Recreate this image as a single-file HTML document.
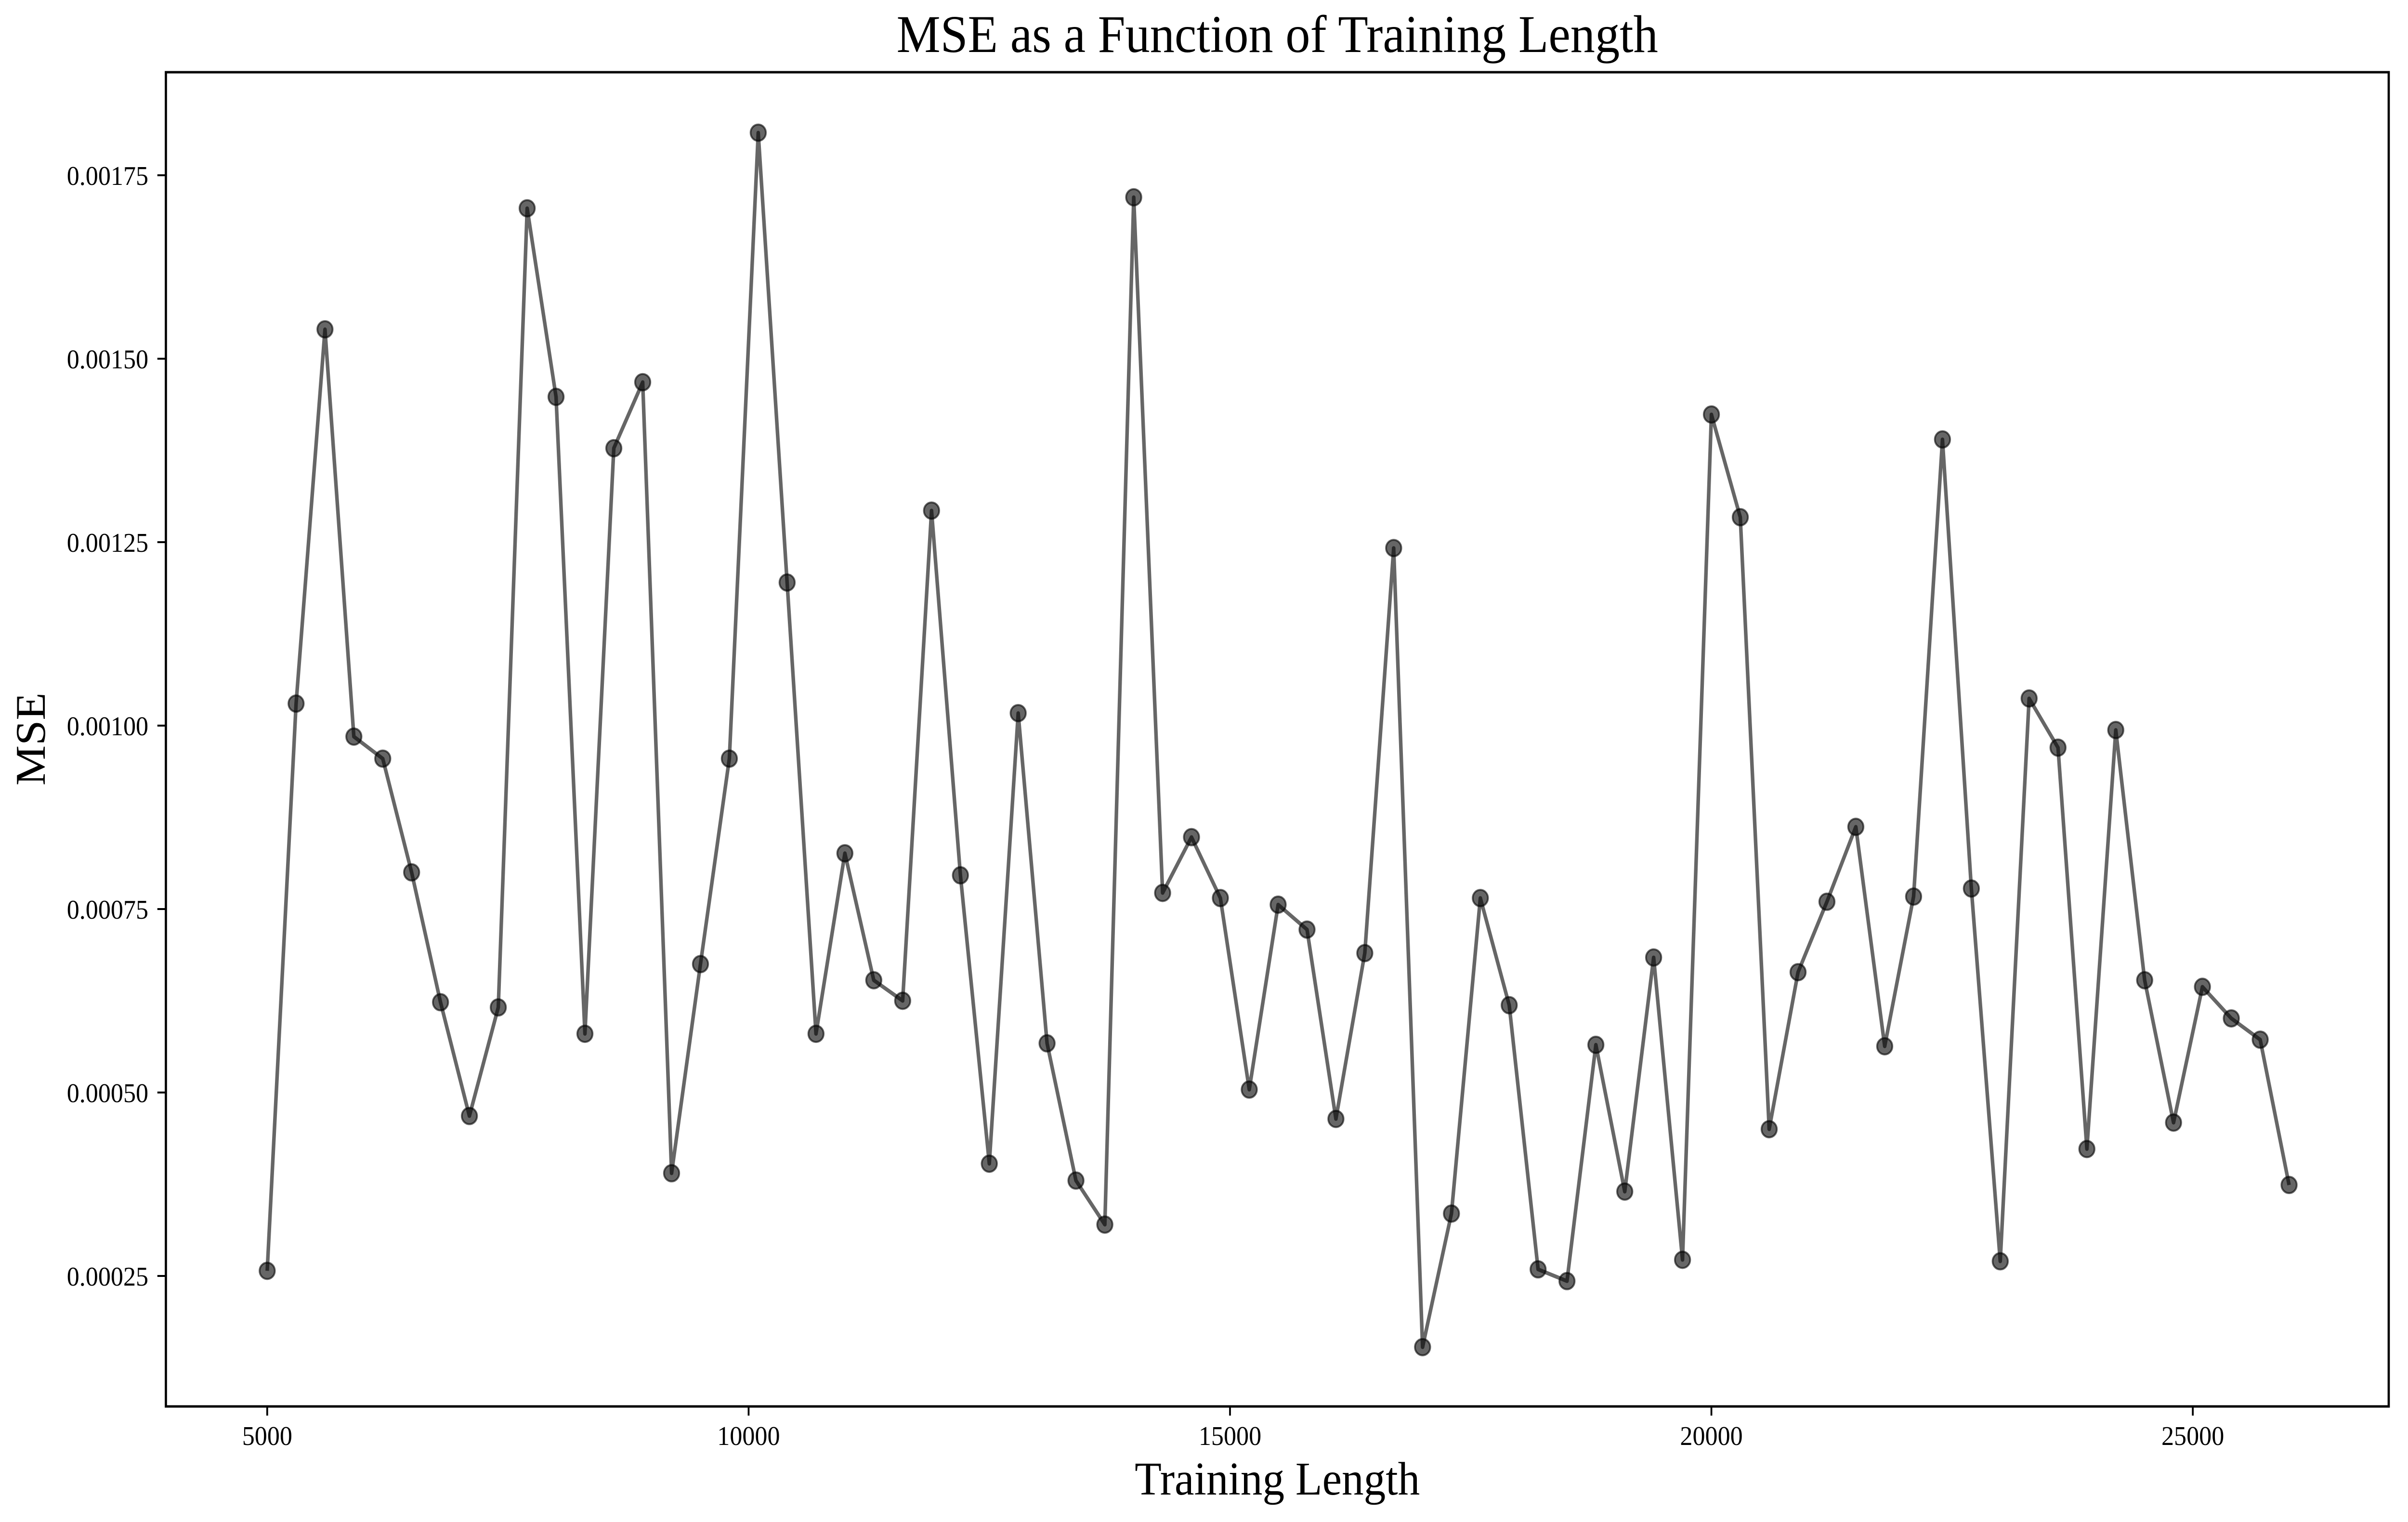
<!DOCTYPE html>
<html><head><meta charset="utf-8"><style>
html,body{margin:0;padding:0;background:#fff;overflow:hidden;width:100%;height:100%}
svg{display:block;width:100vw;height:100vh}
text{font-family:"Liberation Serif",serif;fill:#000}
</style></head><body>
<svg id="chart" viewBox="0 0 5371 3161" preserveAspectRatio="none" xmlns="http://www.w3.org/2000/svg">
<text x="2849" y="108" font-size="110" text-anchor="middle">MSE as a Function of Training Length</text>
<text x="2849" y="3104" font-size="98" text-anchor="middle">Training Length</text>
<text x="0" y="0" font-size="94" text-anchor="middle" transform="translate(100,1535) rotate(-90)">MSE</text>
<g id="ticks"></g>
<g id="series"></g>
<rect x="370" y="150" width="4958" height="2771" fill="none" stroke="#000" stroke-width="5"/>
</svg>
<script>
const trainingLengths = [5000,5300,5600,5900,6200,6500,6800,7100,7400,7700,8000,8300,8600,8900,9200,9500,9800,10100,10400,10700,11000,11300,11600,11900,12200,12500,12800,13100,13400,13700,14000,14300,14600,14900,15200,15500,15800,16100,16400,16700,17000,17300,17600,17900,18200,18500,18800,19100,19400,19700,20000,20300,20600,20900,21200,21500,21800,22100,22400,22700,23000,23300,23600,23900,24200,24500,24800,25100,25400,25700,26000];
const mseValues = [0.000257,0.00103,0.00154,0.000985,0.000955,0.0008,0.000623,0.000468,0.000616,0.001705,0.001448,0.00058,0.001378,0.001468,0.00039,0.000675,0.000955,0.001808,0.001195,0.00058,0.000826,0.000653,0.000625,0.001293,0.000796,0.000403,0.001017,0.000567,0.00038,0.00032,0.00172,0.000772,0.000848,0.000765,0.000504,0.000756,0.000722,0.000464,0.00069,0.001242,0.000153,0.000335,0.000765,0.000619,0.000259,0.000243,0.000565,0.000365,0.000684,0.000272,0.001424,0.001284,0.00045,0.000664,0.00076,0.000862,0.000563,0.000767,0.00139,0.000778,0.00027,0.001037,0.00097,0.000423,0.000994,0.000653,0.000459,0.000644,0.000601,0.000572,0.000374];
const xTicks = [5000,10000,15000,20000,25000];
const yTicks = [0.00025,0.0005,0.00075,0.001,0.00125,0.0015,0.00175];
const yTickLabels = ["0.00025","0.00050","0.00075","0.00100","0.00125","0.00150","0.00175"];

const NS = "http://www.w3.org/2000/svg";
function xs(v){ return 596 + (v - 5000) * (4891 - 596) / 20000; }
function ys(v){ return 364 + (0.00175 - v) * 381 / 0.00025; }
const tg = document.getElementById('ticks');
const sg = document.getElementById('series');
function mk(tag, attrs){ const e = document.createElementNS(NS, tag); for (const k in attrs) e.setAttribute(k, attrs[k]); return e; }

xTicks.forEach(t => {
  const l = mk('line', {x1: xs(t), x2: xs(t), y1: 2921, y2: 2940, stroke: '#000', 'stroke-width': 4});
  
  
  tg.appendChild(l);
  const tx = mk('text', {x: xs(t), y: 3001, 'font-size': 56, 'text-anchor': 'middle'});
  tx.textContent = String(t);
  
  
  tg.appendChild(tx);
});
yTicks.forEach((t, i) => {
  const l = mk('line', {x1: 351, x2: 370, y1: ys(t), y2: ys(t), stroke: '#000', 'stroke-width': 4});
  
  
  tg.appendChild(l);
  const tx = mk('text', {x: 331, y: ys(t) + 20, 'font-size': 56, 'text-anchor': 'end'});
  tx.textContent = yTickLabels[i];
  
  
  tg.appendChild(tx);
});

const pts = trainingLengths.map((x, i) => xs(x) + ',' + ys(mseValues[i])).join(' ');
const line = mk('polyline', {points: pts, fill: 'none', stroke: '#000', 'stroke-opacity': 0.6, 'stroke-width': 8, 'stroke-linejoin': 'round'});


sg.appendChild(line);
trainingLengths.forEach((x, i) => {
  const c = mk('circle', {cx: xs(x), cy: ys(mseValues[i]), r: 17, fill: '#000', 'fill-opacity': 0.6, stroke: '#000', 'stroke-opacity': 0.6, 'stroke-width': 4});
  
  
  sg.appendChild(c);
});
</script>
</body></html>
